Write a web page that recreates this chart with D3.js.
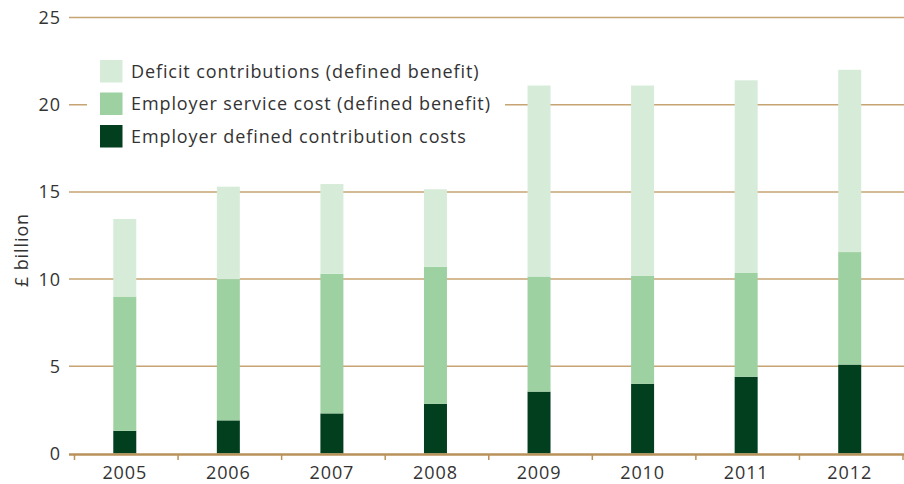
<!DOCTYPE html>
<html><head><meta charset="utf-8">
<script src="https://cdn.jsdelivr.net/npm/d3@7"></script>
<style>body{margin:0;background:#fff}svg{display:block}text{font-family:"Open Sans",sans-serif;fill:#333;letter-spacing:0.9px}</style>
</head><body><svg id="c" width="904" height="484"></svg>
<script>
const years = ["2005","2006","2007","2008","2009","2010","2011","2012"];
const dcCosts = [1.3,1.9,2.3,2.85,3.55,4.0,4.4,5.1];
const serviceCost = [7.7,8.1,8.0,7.85,6.6,6.2,5.95,6.45];
const deficitContrib = [4.45,5.3,5.15,4.45,10.95,10.9,11.05,10.45];
const seriesNames = ["Employer defined contribution costs","Employer service cost (defined benefit)","Deficit contributions (defined benefit)"];
const seriesColors = ["#013f1e","#9dd1a1","#d6ecd8"];
const yTicks = [0,5,10,15,20,25];

const svg = d3.select("#c");
const y = d3.scaleLinear().domain([0,25]).range([453.5,17.5]);
const xb = d3.scaleBand().domain(years).range([74.5,903]).padding(0);
const barW = xb.bandwidth()*0.222;

// gridlines
svg.append("g").selectAll("line").data(yTicks.filter(t=>t>0)).join("line")
  .attr("x1",69).attr("x2",904).attr("y1",d=>y(d)).attr("y2",d=>y(d))
  .attr("stroke","#c6a473").attr("stroke-width",1.5);
// y labels
svg.append("g").selectAll("text").data(yTicks).join("text")
  .attr("x",61).attr("y",d=>y(d)).attr("dy","0.36em").attr("text-anchor","end")
  .attr("font-size",18).text(d=>d);
svg.append("text").attr("transform","translate(28,250) rotate(-90)").attr("text-anchor","middle")
  .attr("font-size",18).text("£ billion");

// stacked data
const rows = years.map((yr,i)=>({year:yr,a:dcCosts[i],b:serviceCost[i],c:deficitContrib[i]}));
const stack = d3.stack().keys(["a","b","c"])(rows);
svg.append("g").selectAll("g").data(stack).join("g").attr("fill",(d,i)=>seriesColors[i])
  .selectAll("rect").data(d=>d).join("rect")
  .attr("x",d=>xb(d.data.year)+xb.bandwidth()/2-barW/2-1.5).attr("width",barW)
  .attr("y",d=>y(d[1])).attr("height",d=>y(d[0])-y(d[1]));

// x axis
const ax = svg.append("g");
ax.append("line").attr("x1",69).attr("x2",904).attr("y1",454.5).attr("y2",454.5).attr("stroke","#b8925a").attr("stroke-width",2.5);
const tickXs = years.map(yr=>xb(yr)).concat([xb(years[years.length-1])+xb.bandwidth()]);
ax.selectAll("line.t").data(tickXs).join("line").attr("class","t")
  .attr("x1",d=>d).attr("x2",d=>d).attr("y1",454).attr("y2",460).attr("stroke","#b8925a").attr("stroke-width",1.5);
ax.selectAll("text").data(years).join("text")
  .attr("x",d=>xb(d)+xb.bandwidth()/2-1.5).attr("y",479).attr("text-anchor","middle")
  .attr("font-size",18).text(d=>d);

// legend
const leg = svg.append("g");
leg.append("rect").attr("x",87).attr("y",55).attr("width",418).attr("height",98).attr("fill","#fff");
const legOrder = [2,1,0];
legOrder.forEach((si,k)=>{
  const gy = 60 + k*32.5;
  leg.append("rect").attr("x",100).attr("y",gy).attr("width",22.5).attr("height",22.5).attr("fill",seriesColors[si]);
  leg.append("text").attr("x",131).attr("y",gy+11.5).attr("dy","0.36em").attr("font-size",18).text(seriesNames[si]);
});
</script></body></html>
